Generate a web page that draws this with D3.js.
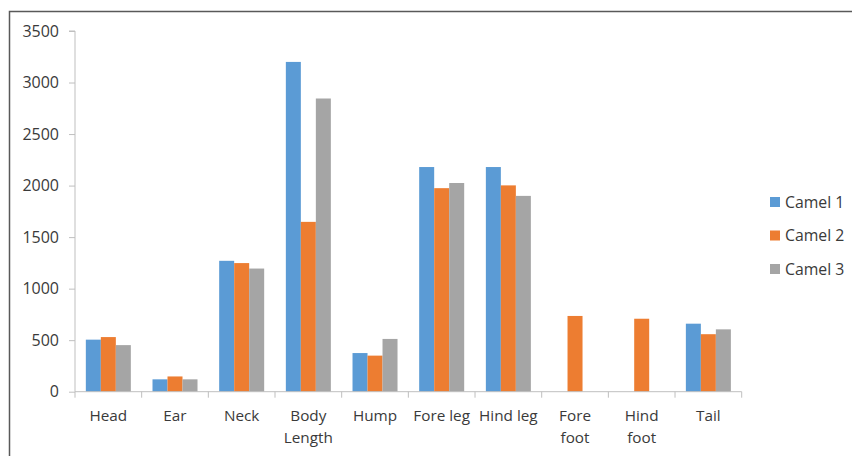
<!DOCTYPE html>
<html><head><meta charset="utf-8">
<script src="https://cdn.jsdelivr.net/npm/d3@7"></script>
<style>body{margin:0;background:#fff}svg{display:block}</style>
</head><body>
<script>
const categories = ["Head","Ear","Neck","Body Length","Hump","Fore leg","Hind leg","Fore foot","Hind foot","Tail"];
const seriesNames = ["Camel 1","Camel 2","Camel 3"];
const camel1 = [505,120,1270,3200,375,2180,2180,null,null,660];
const camel2 = [530,148,1248,1648,350,1975,2002,735,708,558];
const camel3 = [452,120,1195,2845,512,2025,1900,null,null,605];
const yTicks = [0,500,1000,1500,2000,2500,3000,3500];
const colors = ["#5B9BD5","#ED7D31","#A5A5A5"];
const seriesValues = [camel1, camel2, camel3];

(function(){
const W = 852, H = 456;
const svg = d3.select("body").append("svg").attr("width", W).attr("height", H);
const font = "'Open Sans', 'Liberation Sans', sans-serif";
const textColor = "#3a3a3a";

// frame
svg.append("rect").attr("x", 9.5).attr("y", 11.5).attr("width", 900).attr("height", 500)
  .attr("fill", "none").attr("stroke", "#595959").attr("stroke-width", 1.5);

const pl = 75, pr = 741.7, pt = 31, pb = 391.7;
const x0 = d3.scaleBand().domain(categories).range([pl, pr]).padding(0);
const bw = x0.bandwidth();
const x1 = d3.scaleBand().domain(seriesNames).range([bw * 0.1625, bw * 0.8375]).padding(0);
const y = d3.scaleLinear().domain([0, 3500]).range([pb, pt]);

// bars
const g = svg.append("g");
seriesNames.forEach((s, si) => {
  g.selectAll(".b" + si).data(categories.map((c, i) => ({c, v: seriesValues[si][i]})).filter(d => d.v != null))
    .enter().append("rect")
    .attr("x", d => x0(d.c) + x1(s))
    .attr("width", x1.bandwidth())
    .attr("y", d => y(d.v))
    .attr("height", d => y(0) - y(d.v))
    .attr("fill", colors[si]);
});

// y axis
const yAxis = d3.axisLeft(y).tickValues(yTicks).tickSize(6).tickPadding(10).tickFormat(d3.format("d"));
const ya = svg.append("g").attr("transform", `translate(${pl},0)`).call(yAxis);
ya.select(".domain").attr("stroke", "#BFBFBF").attr("d", `M-6,${pt}H0V${pb}`);
ya.selectAll(".tick line").attr("stroke", "#BFBFBF");
ya.selectAll(".tick text").attr("fill", textColor).style("font-family", font).style("font-size", "16px");

// x axis
const xa = svg.append("g").attr("transform", `translate(0,${pb})`);
xa.append("line").attr("x1", pl).attr("x2", pr).attr("y1", 0).attr("y2", 0).attr("stroke", "#BFBFBF");
const bounds = categories.map(c => x0(c)).concat([pr]);
xa.selectAll(".xt").data(bounds).enter().append("line")
  .attr("x1", d => d).attr("x2", d => d).attr("y1", 0).attr("y2", 6).attr("stroke", "#BFBFBF");
const lab = xa.selectAll(".xl").data(categories).enter().append("text")
  .attr("x", d => x0(d) + bw / 2).attr("y", 29.5)
  .attr("text-anchor", "middle").attr("fill", textColor)
  .style("font-family", font).style("font-size", "15.3px");
lab.each(function(d) {
  const parts = d === "Fore leg" || d === "Hind leg" ? [d] : d.split(" ");
  const t = d3.select(this);
  parts.forEach((p, i) => t.append("tspan").attr("x", x0(d) + bw / 2).attr("dy", i === 0 ? 0 : 22).text(p));
});

// legend
const lg = svg.append("g");
seriesNames.forEach((s, i) => {
  const cy = 202 + i * 33.5;
  lg.append("rect").attr("x", 770).attr("y", cy - 5).attr("width", 10).attr("height", 10).attr("fill", colors[i]);
  lg.append("text").attr("x", 785).attr("y", cy + 5.5).text(s)
    .attr("fill", textColor).style("font-family", font).style("font-size", "15.8px");
});
})();
</script>
</body></html>
